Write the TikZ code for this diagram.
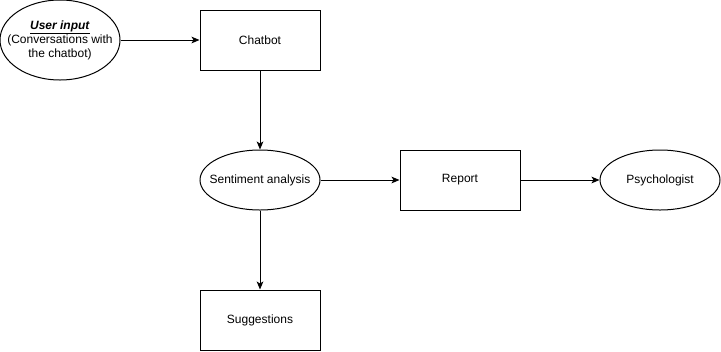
\documentclass[tikz,border=0pt]{standalone}
\usepackage{fontspec}
\setmainfont{Liberation Sans}
\usetikzlibrary{arrows.meta,shapes.geometric}

\begin{document}
\begin{tikzpicture}[x=0.75pt, y=-0.75pt, font=\fontsize{9}{10.5}\selectfont, %escala em px e fonte
		caixa/.style={draw, line width=0.75pt, minimum width=90pt, minimum height=45pt, inner sep=0pt},
		elipse/.style={draw, ellipse, line width=0.75pt, minimum width=90pt, minimum height=45pt, inner xsep=-14pt, inner ysep=0pt},
		seta/.style={-{Stealth[length=6pt, width=5pt, inset=1.5pt]}, line width=0.75pt}]
	\useasboundingbox (0,0) rectangle (721,351); %Margens
		%Nós
	\node[elipse, minimum height=60pt, align=center] (entrada) at (60,40) {\underline{\textbf{\textit{User input}}}\\(Conversations with\\the chatbot)}; %Entrada do usuário
	\node[caixa] (chatbot) at (260,40) {Chatbot};
	\node[elipse] (sentimento) at (260,180) {Sentiment analysis};
	\node[caixa] (relatorio) at (460,180) {Report};
	\node[elipse] (psicologo) at (660,180) {Psychologist};
	\node[caixa] (sugestoes) at (260,320) {Suggestions};
		%Setas
	\draw[seta] (entrada) -- (chatbot);
	\draw[seta] (chatbot) -- (sentimento);
	\draw[seta] (sentimento) -- (relatorio);
	\draw[seta] (relatorio) -- (psicologo);
	\draw[seta] (sentimento) -- (sugestoes);
\end{tikzpicture}
\end{document}
